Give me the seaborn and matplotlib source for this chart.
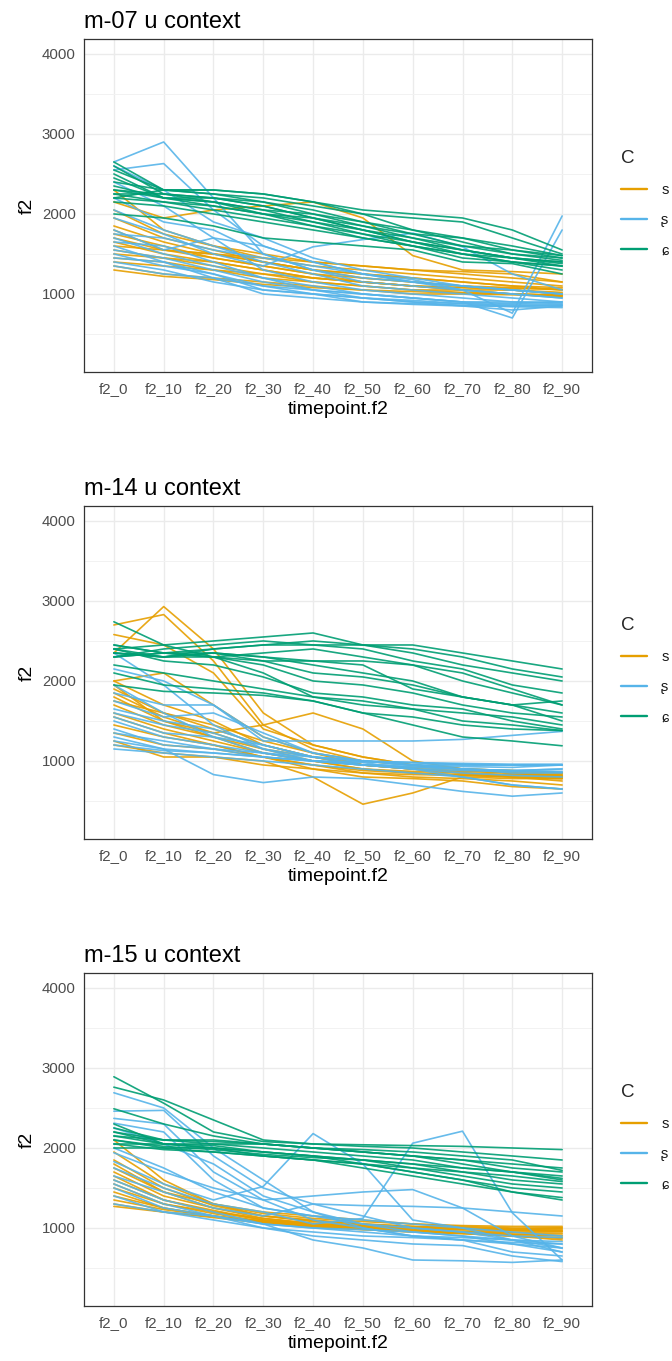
import matplotlib
matplotlib.use("Agg")
import matplotlib.pyplot as plt
from matplotlib.lines import Line2D
from matplotlib.ticker import FixedLocator
import pandas as pd
import seaborn as sns

# Time points of the F2 trajectory
timepoints = ["f2_0", "f2_10", "f2_20", "f2_30", "f2_40",
              "f2_50", "f2_60", "f2_70", "f2_80", "f2_90"]
consonants = ["s", "ʂ", "ɕ"]
speakers = ["m-07", "m-14", "m-15"]

# ---- speaker m-07 ----
m07_s = [
    [2300, 1800, 1600, 1450, 1350, 1300, 1250, 1200, 1150, 1100],
    [2150, 1950, 2050, 2100, 2150, 1950, 1480, 1300, 1280, 1250],
    [1950, 1700, 1550, 1400, 1300, 1250, 1200, 1150, 1100, 1050],
    [1850, 1650, 1500, 1400, 1300, 1200, 1150, 1100, 1080, 1050],
    [1750, 1600, 1450, 1350, 1250, 1200, 1150, 1100, 1050, 1000],
    [1700, 1550, 1500, 1400, 1300, 1250, 1200, 1150, 1100, 1080],
    [1650, 1500, 1400, 1300, 1200, 1150, 1100, 1050, 1000, 980],
    [1600, 1550, 1450, 1350, 1250, 1150, 1100, 1050, 1050, 1000],
    [1550, 1450, 1400, 1300, 1200, 1150, 1100, 1080, 1050, 1020],
    [1500, 1450, 1350, 1250, 1150, 1100, 1050, 1050, 1000, 960],
    [1450, 1400, 1300, 1250, 1200, 1150, 1100, 1080, 1070, 1060],
    [1400, 1350, 1300, 1200, 1150, 1100, 1050, 1020, 1000, 980],
    [1350, 1250, 1200, 1150, 1100, 1050, 1000, 1000, 990, 970],
    [1300, 1220, 1180, 1120, 1080, 1050, 1030, 1010, 1000, 990],
    [1800, 1550, 1500, 1450, 1400, 1350, 1300, 1280, 1250, 1150],
    [2050, 1750, 1600, 1500, 1400, 1350, 1300, 1250, 1200, 1150],
]
m07_retroflex = [
    [2650, 2900, 2200, 1500, 1300, 1150, 1100, 1050, 1000, 950],
    [2550, 2630, 2050, 1600, 1400, 1250, 1150, 1100, 1050, 1000],
    [2600, 2300, 1900, 1700, 1450, 1300, 1200, 1100, 1050, 1000],
    [2400, 2100, 1700, 1300, 1150, 1050, 1000, 950, 900, 880],
    [2050, 1800, 1600, 1400, 1250, 1100, 1050, 1000, 950, 900],
    [1950, 1750, 1500, 1350, 1590, 1680, 1760, 1590, 1250, 1050],
    [1800, 1550, 1700, 1600, 1400, 1250, 1150, 1050, 760, 1975],
    [1700, 1500, 1350, 1200, 1100, 1000, 950, 900, 700, 1800],
    [1650, 1600, 1400, 1200, 1050, 950, 900, 850, 800, 850],
    [1600, 1400, 1250, 1100, 1000, 950, 920, 880, 850, 850],
    [1550, 1450, 1300, 1150, 1050, 1000, 950, 900, 900, 900],
    [1500, 1350, 1250, 1050, 1000, 900, 880, 860, 840, 830],
    [1450, 1400, 1200, 1000, 950, 900, 870, 850, 850, 860],
    [1400, 1300, 1150, 1050, 1000, 950, 900, 880, 870, 870],
    [1350, 1250, 1200, 1100, 1050, 1000, 950, 900, 880, 900],
    [1750, 1700, 1550, 1450, 1350, 1250, 1180, 1050, 1000, 950],
    [2200, 1900, 1800, 1500, 1300, 1200, 1150, 1100, 1050, 1000],
]
m07_alveolopalatal = [
    [2650, 2300, 2250, 2200, 2100, 2000, 1950, 1900, 1700, 1500],
    [2600, 2250, 2200, 2150, 2000, 1850, 1700, 1550, 1450, 1400],
    [2550, 2300, 2300, 2250, 2150, 2000, 1800, 1650, 1500, 1420],
    [2450, 2200, 2200, 2100, 1950, 1800, 1650, 1500, 1400, 1350],
    [2400, 2300, 2250, 2150, 2050, 1900, 1750, 1600, 1500, 1450],
    [2300, 2250, 2200, 2100, 1950, 1800, 1650, 1550, 1450, 1400],
    [2300, 2200, 2150, 2050, 1900, 1750, 1650, 1550, 1450, 1380],
    [2250, 2250, 2150, 2000, 1850, 1750, 1600, 1500, 1400, 1350],
    [2250, 2150, 2100, 2000, 1900, 1800, 1700, 1600, 1550, 1450],
    [2200, 2300, 2300, 2250, 2150, 2050, 2000, 1950, 1800, 1550],
    [2200, 2150, 2050, 1950, 1850, 1700, 1600, 1450, 1400, 1300],
    [2350, 2200, 2100, 2000, 1950, 1850, 1750, 1700, 1600, 1480],
    [2000, 1950, 1850, 1700, 1650, 1600, 1550, 1400, 1380, 1250],
    [2150, 2100, 2000, 1900, 1800, 1700, 1600, 1500, 1450, 1350],
    [2500, 2200, 2150, 2050, 2000, 1900, 1800, 1700, 1550, 1480],
]

# ---- speaker m-14 ----
m14_s = [
    [2700, 2830, 2250, 1450, 1150, 1000, 950, 900, 850, 800],
    [2350, 2930, 2400, 1600, 1200, 1050, 950, 900, 850, 820],
    [2580, 2450, 2100, 1400, 1200, 1050, 950, 900, 880, 850],
    [2000, 2100, 1700, 1300, 1100, 950, 900, 850, 800, 750],
    [1950, 1500, 1350, 1450, 1600, 1400, 1000, 900, 850, 820],
    [1900, 1600, 1400, 1200, 1050, 950, 900, 880, 850, 800],
    [1850, 1550, 1350, 1150, 1000, 900, 850, 820, 800, 780],
    [1800, 1500, 1300, 1100, 1000, 950, 900, 850, 830, 800],
    [1700, 1450, 1300, 1150, 1050, 950, 920, 900, 880, 850],
    [1600, 1400, 1250, 1100, 1000, 900, 870, 850, 820, 800],
    [1550, 1350, 1200, 1050, 950, 880, 850, 830, 820, 800],
    [1450, 1300, 1200, 1050, 950, 850, 800, 780, 750, 700],
    [1350, 1200, 1150, 1050, 900, 800, 780, 750, 680, 650],
    [1250, 1050, 1050, 1000, 800, 460, 600, 800, 780, 780],
    [1200, 1100, 1050, 950, 900, 850, 830, 820, 800, 780],
    [1750, 1600, 1450, 1250, 1100, 1000, 950, 900, 870, 850],
    [2000, 1700, 1500, 1200, 1050, 950, 900, 870, 850, 830],
]
m14_retroflex = [
    [2350, 1950, 1450, 1150, 1050, 1000, 950, 900, 880, 900],
    [2150, 2000, 1700, 1300, 1100, 1000, 950, 900, 850, 850],
    [1850, 1700, 1700, 1250, 1250, 1250, 1250, 1270, 1320, 1370],
    [1750, 1550, 1600, 1350, 1100, 1000, 950, 950, 950, 950],
    [1650, 1500, 1400, 1200, 1050, 950, 900, 850, 820, 800],
    [1550, 1350, 1300, 1200, 1050, 1000, 980, 950, 950, 950],
    [1500, 1300, 1200, 1100, 1000, 950, 920, 900, 880, 900],
    [1400, 1200, 1150, 1050, 1000, 950, 950, 930, 920, 950],
    [1300, 1150, 1100, 1050, 1000, 980, 900, 800, 700, 650],
    [1250, 1150, 830, 730, 800, 780, 700, 620, 560, 600],
    [1150, 1100, 1050, 1000, 950, 900, 850, 800, 700, 650],
    [1200, 1130, 1100, 1050, 1000, 990, 980, 970, 960, 960],
    [1350, 1250, 1150, 1100, 1050, 1000, 980, 960, 950, 950],
    [1600, 1450, 1350, 1150, 1000, 950, 930, 900, 880, 870],
    [1950, 1600, 1300, 1100, 1000, 950, 900, 880, 870, 860],
]
m14_alveolopalatal = [
    [2400, 2450, 2500, 2550, 2600, 2450, 2450, 2350, 2250, 2150],
    [2450, 2350, 2400, 2450, 2450, 2450, 2400, 2300, 2150, 2050],
    [2350, 2300, 2400, 2450, 2500, 2450, 2350, 2200, 2100, 2000],
    [2300, 2400, 2450, 2500, 2450, 2400, 2250, 2150, 1950, 1850],
    [2740, 2450, 2300, 2350, 2400, 2300, 2200, 2100, 1900, 1700],
    [2350, 2300, 2350, 2250, 2100, 2050, 1950, 1800, 1700, 1750],
    [2450, 2350, 2300, 2250, 2250, 2200, 1900, 1800, 1700, 1500],
    [2400, 2300, 2300, 2200, 2000, 1950, 1850, 1700, 1600, 1550],
    [2300, 2350, 2300, 2100, 1800, 1700, 1650, 1600, 1550, 1450],
    [2400, 2250, 2200, 2050, 1850, 1800, 1700, 1650, 1500, 1400],
    [1950, 1870, 1850, 1820, 1750, 1600, 1550, 1450, 1400, 1380],
    [2200, 2100, 2000, 1900, 1800, 1750, 1650, 1500, 1450, 1380],
    [2100, 1950, 1900, 1850, 1750, 1600, 1450, 1300, 1250, 1190],
    [2350, 2300, 2350, 2300, 2200, 2100, 2000, 1800, 1700, 1600],
    [2300, 2350, 2350, 2300, 2250, 2250, 2200, 2000, 1850, 1700],
]

# ---- speaker m-15 ----
m15_s = [
    [2100, 1600, 1300, 1200, 1150, 1100, 1050, 1020, 1000, 1000],
    [1950, 1550, 1300, 1180, 1120, 1080, 1050, 1030, 1020, 1020],
    [1850, 1500, 1280, 1150, 1100, 1050, 1020, 1000, 990, 980],
    [1800, 1450, 1250, 1150, 1080, 1030, 1000, 980, 970, 960],
    [1700, 1400, 1250, 1120, 1050, 1000, 980, 960, 950, 950],
    [1650, 1350, 1220, 1100, 1050, 1000, 970, 950, 920, 900],
    [1600, 1350, 1200, 1100, 1040, 1000, 960, 940, 900, 880],
    [1550, 1300, 1180, 1080, 1030, 990, 950, 930, 900, 870],
    [1500, 1300, 1200, 1120, 1060, 1020, 1000, 990, 980, 1000],
    [1450, 1250, 1150, 1080, 1020, 990, 960, 940, 920, 910],
    [1400, 1250, 1150, 1070, 1020, 980, 950, 930, 900, 850],
    [1350, 1230, 1150, 1080, 1040, 1010, 990, 980, 970, 960],
    [1300, 1200, 1130, 1060, 1010, 980, 960, 950, 940, 930],
    [1270, 1200, 1140, 1090, 1050, 1030, 1010, 1000, 990, 1000],
    [1750, 1450, 1300, 1150, 1090, 1050, 1020, 1000, 980, 970],
]
m15_retroflex = [
    [2690, 2500, 2000, 1600, 1200, 1050, 950, 900, 800, 700],
    [2460, 2470, 1900, 1500, 1300, 1150, 1000, 950, 850, 750],
    [2370, 2300, 1700, 1350, 1100, 1000, 900, 850, 700, 650],
    [2310, 2200, 1600, 1250, 1150, 1050, 1000, 950, 900, 880],
    [2250, 2050, 1800, 1400, 1200, 1000, 900, 850, 820, 800],
    [1940, 1700, 1500, 1350, 1400, 1450, 1480, 1250, 900, 750],
    [1830, 1550, 1350, 1520, 2180, 1800, 1100, 1000, 850, 800],
    [1750, 1500, 1300, 1200, 1050, 1120, 2060, 2210, 1190, 600],
    [1650, 1450, 1250, 1150, 1300, 1280, 1270, 1250, 1200, 1150],
    [1600, 1350, 1200, 1050, 850, 750, 600, 590, 570, 600],
    [1550, 1300, 1150, 1000, 900, 850, 800, 780, 650, 580],
    [1500, 1250, 1150, 1050, 1000, 950, 900, 880, 850, 830],
    [1400, 1200, 1100, 1000, 950, 900, 880, 850, 800, 750],
    [1300, 1200, 1150, 1050, 1000, 980, 950, 900, 850, 700],
    [2000, 1750, 1450, 1250, 1150, 1100, 1050, 1000, 950, 900],
]
m15_alveolopalatal = [
    [2890, 2560, 2200, 2080, 2050, 2040, 2030, 2020, 2000, 1980],
    [2760, 2600, 2350, 2100, 2050, 2020, 2000, 1950, 1900, 1850],
    [2490, 2300, 2150, 2050, 2000, 1950, 1900, 1850, 1800, 1750],
    [2250, 2100, 2050, 2050, 2000, 1950, 1900, 1850, 1750, 1700],
    [2200, 2050, 2050, 2000, 1950, 1900, 1850, 1750, 1700, 1650],
    [2150, 2100, 2080, 2050, 2000, 1950, 1900, 1800, 1700, 1620],
    [2100, 2000, 2000, 1950, 1900, 1850, 1800, 1700, 1600, 1550],
    [2050, 2050, 2000, 1950, 1900, 1850, 1750, 1650, 1550, 1500],
    [2000, 2000, 1950, 1900, 1850, 1800, 1700, 1600, 1500, 1450],
    [2150, 2050, 2000, 1900, 1850, 1750, 1650, 1550, 1450, 1380],
    [2300, 2050, 2030, 1950, 1900, 1800, 1700, 1600, 1450, 1350],
    [2050, 1980, 1950, 1900, 1850, 1800, 1750, 1700, 1650, 1580],
    [2200, 2100, 2100, 2050, 2000, 1980, 1950, 1900, 1850, 1720],
    [2100, 2020, 1980, 1920, 1880, 1850, 1800, 1750, 1700, 1600],
]

tokens = {
    "m-07": {"s": m07_s, "ʂ": m07_retroflex, "ɕ": m07_alveolopalatal},
    "m-14": {"s": m14_s, "ʂ": m14_retroflex, "ɕ": m14_alveolopalatal},
    "m-15": {"s": m15_s, "ʂ": m15_retroflex, "ɕ": m15_alveolopalatal},
}

palette = {"s": "#E69F00", "ʂ": "#56B4E9", "ɕ": "#009E73"}


def long_table(speaker):
    rows = []
    for c in consonants:
        for k, traj in enumerate(tokens[speaker][c]):
            for t, v in zip(timepoints, traj):
                rows.append({"timepoint.f2": t, "f2": v, "C": c,
                             "token": f"{c}{k}"})
    df = pd.DataFrame(rows)
    df["x"] = df["timepoint.f2"].map({t: i for i, t in enumerate(timepoints)})
    return df


sns.set_style("white")
fonts = ["Liberation Sans", "DejaVu Sans"]
plt.rcParams["font.family"] = fonts

W, H = 672, 1361
fig = plt.figure(figsize=(W / 100, H / 100), dpi=100)

panel_tops = [39, 506, 973]
panel_h = 333
ax_left, ax_w = 84, 508

for speaker, top in zip(speakers, panel_tops):
    ax = fig.add_axes([ax_left / W, 1 - (top + panel_h) / H, ax_w / W, panel_h / H])
    df = long_table(speaker)
    sns.lineplot(data=df, x="x", y="f2", hue="C", units="token",
                 estimator=None, hue_order=consonants, palette=palette,
                 linewidth=1.2, alpha=0.9, sort=False, legend=False, ax=ax)

    ax.set_xlim(-0.6, 9.6)
    ax.set_ylim(25, 4187)
    ax.set_xticks(range(len(timepoints)))
    ax.set_xticklabels(timepoints)
    ax.set_yticks([1000, 2000, 3000, 4000])
    ax.yaxis.set_minor_locator(FixedLocator([500, 1500, 2500, 3500]))
    ax.grid(True, which="major", color="#EBEBEB", linewidth=1.0)
    ax.grid(True, which="minor", axis="y", color="#F2F2F2", linewidth=0.7)
    ax.set_axisbelow(True)
    for sp in ax.spines.values():
        sp.set_color("#333333")
        sp.set_linewidth(0.9)
    ax.tick_params(axis="both", which="major", length=3.5, width=0.8,
                   color="#333333", labelcolor="#4D4D4D", labelsize=10.8,
                   pad=2.5)
    ax.tick_params(axis="x", which="major", pad=4)
    ax.tick_params(axis="y", which="minor", length=0)
    ax.set_xlabel("timepoint.f2", fontsize=14, color="black", labelpad=3)
    ax.set_ylabel("f2", fontsize=14, color="black", labelpad=4)
    ax.set_title(f"{speaker} u context", loc="left", fontsize=17,
                 color="black", pad=8)

    handles = [Line2D([], [], color=palette[c], linewidth=1.7) for c in consonants]
    leg = ax.legend(handles, consonants, title="C", loc="upper left",
                    bbox_to_anchor=(621 / W, 1 - (top + 111) / H),
                    bbox_transform=fig.transFigure, frameon=False,
                    fontsize=10.5, title_fontsize=13.5, handlelength=1.75,
                    handletextpad=1.0, labelspacing=1.1, alignment="left",
                    borderaxespad=0, borderpad=0)
    for txt in leg.get_texts():
        txt.set_color("#1A1A1A")

fig.savefig("out.png", dpi=100)
